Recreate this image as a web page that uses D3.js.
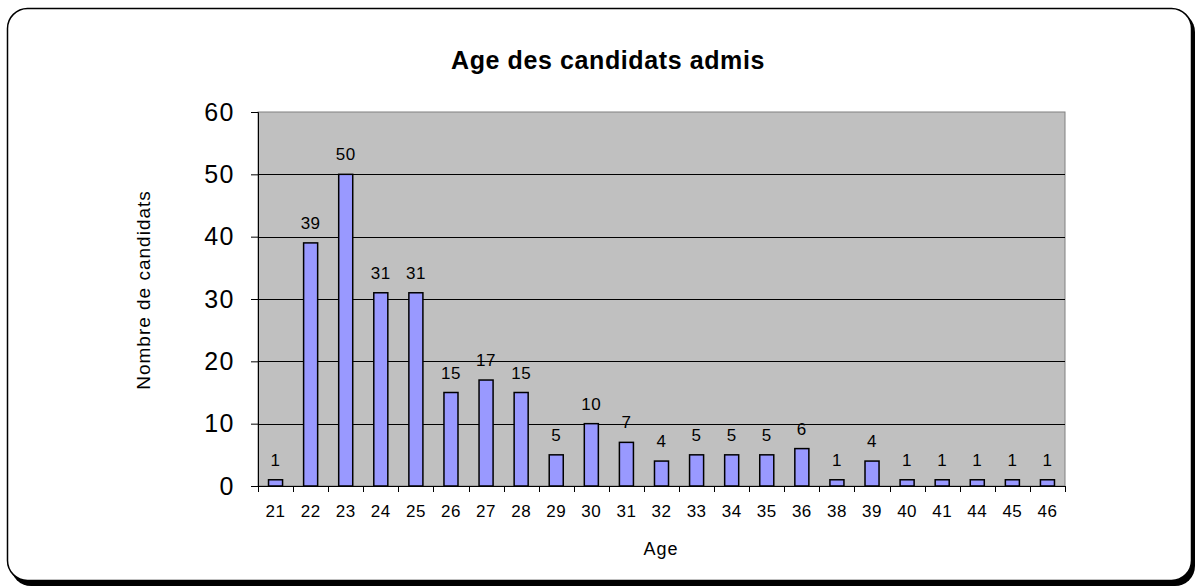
<!DOCTYPE html>
<html>
<head>
<meta charset="utf-8">
<script src="https://cdn.jsdelivr.net/npm/d3@7"></script>
<style>
  body { margin: 0; background: #fff; }
  svg { display: block; font-family: "Liberation Sans", Arial, sans-serif; }
</style>
</head>
<body>
<div id="graph"></div>
<script>
// Données
const ages = ["21","22","23","24","25","26","27","28","29","30","31","32","33","34","35","36","38","39","40","41","44","45","46"];
const nombres = [1,39,50,31,31,15,17,15,5,10,7,4,5,5,5,6,1,4,1,1,1,1,1];
const yTicks = [0,10,20,30,40,50,60];

const W = 1200, H = 588;
const margin = { top: 112, right: 135, bottom: 102, left: 258 };
const width = W - margin.left - margin.right;
const height = H - margin.top - margin.bottom;

const svg = d3.select("#graph").append("svg")
  .attr("width", W)
  .attr("height", H);

// Cadre extérieur avec ombre
svg.append("rect")
  .attr("x", 11).attr("y", 12)
  .attr("width", 1184).attr("height", 574)
  .attr("rx", 20)
  .attr("fill", "#000");
svg.append("rect")
  .attr("x", 7.5).attr("y", 8.5)
  .attr("width", 1184).attr("height", 572)
  .attr("rx", 20)
  .attr("fill", "#fff")
  .attr("stroke", "#000")
  .attr("stroke-width", 1.5);

// Titre
svg.append("text")
  .attr("x", 608).attr("y", 69)
  .attr("text-anchor", "middle")
  .style("font-size", "25px")
  .style("font-weight", "bold")
  .style("letter-spacing", "0.6px")
  .text("Age des candidats admis");

const g = svg.append("g")
  .attr("transform", `translate(${margin.left},${margin.top})`);

// Échelles
const x = d3.scaleBand().domain(ages).range([0, width]).paddingInner(0.6).paddingOuter(0.3);
const xb = d3.scaleBand().domain(ages).range([0, width]);
const y = d3.scaleLinear().domain([0, 60]).range([height, 0]);

// Fond gris
g.append("rect")
  .attr("width", width).attr("height", height)
  .attr("fill", "#c0c0c0")
  .attr("stroke", "#808080");

// Grille
g.selectAll(".grid")
  .data(yTicks.filter(d => d > 0 && d < 60))
  .enter().append("line")
  .attr("x1", 0).attr("x2", width)
  .attr("y1", d => Math.round(y(d)) + 0.5).attr("y2", d => Math.round(y(d)) + 0.5)
  .attr("stroke", "#000");

// Axe Y
const yAxis = g.append("g")
  .call(d3.axisLeft(y).tickValues(yTicks).tickSize(7).tickPadding(16));
yAxis.selectAll("text").style("font-size", "25px").style("letter-spacing", "1.5px").attr("fill", "#000");
yAxis.selectAll("line").attr("stroke", "#000");
yAxis.select(".domain").attr("stroke", "#000").attr("d", `M-7,0.5H0.5V${height}.5`);

// Axe X
const xAxis = g.append("g")
  .attr("transform", `translate(0,${height})`)
  .call(d3.axisBottom(xb).tickSize(0).tickPadding(19));
xAxis.selectAll("text").style("font-size", "17px").style("letter-spacing", "0.5px").attr("fill", "#000");
xAxis.select(".domain").attr("stroke", "#000").attr("d", `M0,0.5H${width}`);
xAxis.selectAll(".sep")
  .data(ages.concat(["fin"]))
  .enter().append("line")
  .attr("x1", (d, i) => Math.round(i * xb.bandwidth()) + 0.5)
  .attr("x2", (d, i) => Math.round(i * xb.bandwidth()) + 0.5)
  .attr("y1", 0).attr("y2", 6)
  .attr("stroke", "#000");

// Barres
g.selectAll(".bar")
  .data(nombres)
  .enter().append("rect")
  .attr("x", (d, i) => x(ages[i]))
  .attr("y", d => y(d))
  .attr("width", x.bandwidth())
  .attr("height", d => height - y(d))
  .attr("fill", "#9999ff")
  .attr("stroke", "#000")
  .attr("stroke-width", 1.5);

// Étiquettes de valeurs
g.selectAll(".val")
  .data(nombres)
  .enter().append("text")
  .attr("x", (d, i) => x(ages[i]) + x.bandwidth() / 2)
  .attr("y", d => y(d) - 14)
  .attr("text-anchor", "middle")
  .style("font-size", "17px")
  .style("letter-spacing", "0.5px")
  .text(d => d);

// Titres des axes
svg.append("text")
  .attr("x", 661).attr("y", 555)
  .attr("text-anchor", "middle")
  .style("font-size", "18px")
  .style("letter-spacing", "1px")
  .text("Age");

svg.append("text")
  .attr("transform", "rotate(-90)")
  .attr("x", -290).attr("y", 150)
  .attr("text-anchor", "middle")
  .style("font-size", "19px")
  .style("letter-spacing", "1px")
  .text("Nombre de candidats");
</script>
</body>
</html>
